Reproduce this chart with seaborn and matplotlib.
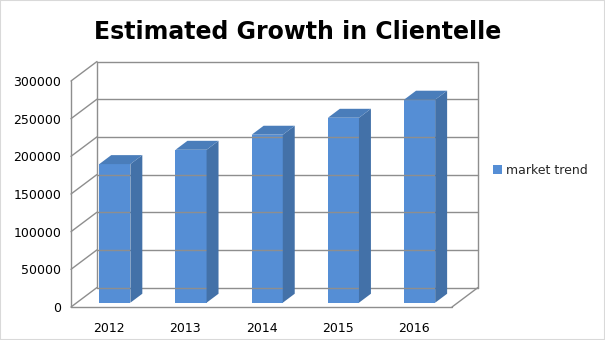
import matplotlib
matplotlib.use("Agg")
import matplotlib.pyplot as plt
import matplotlib.transforms as mtransforms
from matplotlib.patches import Polygon, Patch, Rectangle
import seaborn as sns
import pandas as pd

years = ["2012", "2013", "2014", "2015", "2016"]
market_trend = [184000, 203000, 223000, 245500, 269500]
y_ticks = [0, 50000, 100000, 150000, 200000, 250000, 300000]
title = "Estimated Growth in Clientelle"
series_name = "market trend"

FRONT = "#558ED5"
SIDE = "#4371A8"
TOP = "#4A7DBA"
GRID = "#8e8e8e"

W, H, DPI = 605, 340, 100
sns.set_theme(style="white")
plt.rcParams["font.family"] = ["DejaVu Sans"]

fig = plt.figure(figsize=(W / DPI, H / DPI), dpi=DPI)
fig.patch.set_facecolor("white")
# front plane of the 3D box
ax = fig.add_axes([71 / W, (H - 307) / H, 381 / W, 226 / H])
ax.set_facecolor("none")

df = pd.DataFrame({"year": years, "value": market_trend})
sns.barplot(data=df, x="year", y="value", color=FRONT, saturation=1,
            width=0.408, ax=ax, zorder=5)
ax.set_xlim(-0.5, len(years) - 0.5)
ax.set_ylim(0, 300000)
ax.set_yticks(y_ticks)
ax.set_yticklabels([str(t) for t in y_ticks])
ax.set_xlabel("")
ax.set_ylabel("")
for s in ax.spines.values():
    s.set_visible(False)
ax.tick_params(axis="y", length=0, pad=7, labelsize=9, colors="black")
ax.tick_params(axis="x", length=0, pad=11, labelsize=9, colors="black")

# depth vector in pixels
DX, DY = 26, 19.5
f0, f1 = 0.22, 0.68

def to_px(x, y, f):
    px, py = ax.transData.transform((x, y))
    return (px + DX * f, py + DY * f)

ident = mtransforms.IdentityTransform()
xl, xr = ax.get_xlim()

def line(p, q, z=1):
    fig.add_artist(plt.Line2D([p[0], q[0]], [p[1], q[1]], transform=ident,
                              color=GRID, lw=1, zorder=z))

# back wall gridlines and left wall diagonals
for t in y_ticks:
    line(to_px(xl, t, 1), to_px(xr, t, 1))
    line(to_px(xl, t, 0), to_px(xl, t, 1))
# back wall edges
line(to_px(xl, 0, 1), to_px(xl, 300000, 1))
line(to_px(xr, 0, 1), to_px(xr, 300000, 1))
# front axis and floor
line(to_px(xl, 0, 0), to_px(xl, 300000, 0))
line(to_px(xl, 0, 0), to_px(xr, 0, 0))
line(to_px(xr, 0, 0), to_px(xr, 0, 1))

# shift bar front faces and add 3D side/top faces
off = mtransforms.ScaledTranslation(DX * f0 / DPI, DY * f0 / DPI, fig.dpi_scale_trans)
for p in list(ax.patches):
    x0, w, h = p.get_x(), p.get_width(), p.get_height()
    p.set_transform(ax.transData + off)
    p.set_clip_on(False)
    p.set_edgecolor("none")
    side = [to_px(x0 + w, 0, f0), to_px(x0 + w, 0, f1),
            to_px(x0 + w, h, f1), to_px(x0 + w, h, f0)]
    top = [to_px(x0, h, f0), to_px(x0 + w, h, f0),
           to_px(x0 + w, h, f1), to_px(x0, h, f1)]
    fig.add_artist(Polygon(side, closed=True, transform=ident,
                           facecolor=SIDE, edgecolor="none", zorder=4))
    fig.add_artist(Polygon(top, closed=True, transform=ident,
                           facecolor=TOP, edgecolor="none", zorder=4))

fig.text(298 / W, 1 - 32 / H, title, ha="center", va="center",
         fontsize=17, fontweight="bold", color="black")

fig.legend(handles=[Patch(facecolor=FRONT, edgecolor="none", label=series_name)],
           loc="center left", bbox_to_anchor=(493 / W, 1 - 170 / H),
           frameon=False, handlelength=0.7, handleheight=0.7,
           handletextpad=0.3, fontsize=9, borderaxespad=0, borderpad=0)

fig.add_artist(Rectangle((0, 0), 1, 1, transform=fig.transFigure, fill=False,
                         edgecolor="#d9d9d9", lw=1.5, zorder=0))

fig.savefig("out.png", dpi=DPI)
